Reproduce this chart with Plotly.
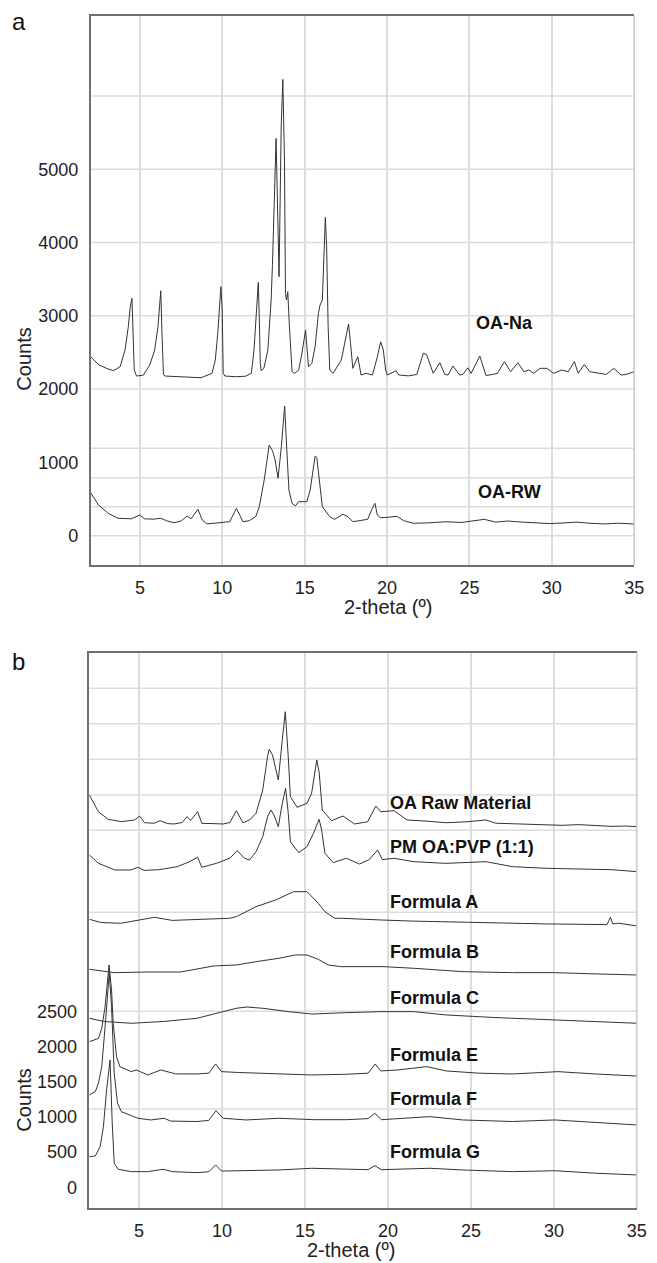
import plotly.graph_objects as go

# ---------------- data ----------------
# Panel a
oa_na_x = [2.0, 2.5, 3.0, 3.39, 3.79, 4.09, 4.29, 4.41, 4.51, 4.59, 4.65, 4.79, 5.2, 5.59, 5.89, 6.09,
           6.21, 6.26, 6.34, 6.42, 6.5, 7.2, 8.0, 8.7, 9.37, 9.57, 9.72, 9.82, 9.91, 9.99, 10.05, 10.15,
           10.8, 11.4, 11.76, 11.92, 12.06, 12.14, 12.18, 12.24, 12.3, 12.36, 12.52, 12.76, 12.96, 13.04,
           13.14, 13.26, 13.34, 13.44, 13.57, 13.67, 13.77, 13.83, 13.89, 13.97, 14.07, 14.23, 14.39,
           14.63, 14.83, 14.97, 15.05, 15.13, 15.23, 15.43, 15.63, 15.83, 15.93, 16.07, 16.17, 16.25,
           16.33, 16.42, 16.52, 16.72, 17.22, 17.48, 17.66, 17.78, 17.92, 18.22, 18.42, 18.71, 19.11,
           19.41, 19.61, 19.77, 19.91, 20.01, 20.55, 20.71, 21.3, 21.8, 22.2, 22.4, 22.8, 23.2, 23.5,
           23.7, 24.0, 24.4, 24.6, 24.9, 25.1, 25.63, 26.0, 26.4, 26.7, 27.12, 27.5, 27.94, 28.3, 28.6,
           28.9, 29.28, 29.7, 30.1, 30.6, 31.0, 31.37, 31.6, 31.97, 32.3, 32.8, 33.3, 33.76, 34.2, 34.5, 35.0]
oa_na_y = [2442, 2330, 2280, 2251, 2305, 2533, 2851, 3124, 3238, 2761, 2260, 2178, 2190, 2328, 2533, 2851,
           3215, 3342, 2715, 2206, 2178, 2169, 2160, 2155, 2215, 2397, 2761, 3170, 3396, 3079, 2215, 2178,
           2169, 2175, 2215, 2533, 2987, 3351, 3456, 2987, 2351, 2251, 2283, 2533, 3215, 3700,
           4600, 5420, 4579, 3533, 5579, 6225, 5125, 3306, 3215, 3328, 2851, 2237, 2215,
           2260, 2488, 2715, 2806, 2579, 2305, 2351, 2579, 3033, 3147, 3215, 3942, 4343,
           3942, 2851, 2260, 2215, 2397, 2670, 2888, 2624, 2283, 2442, 2192, 2215, 2192,
           2442, 2646, 2533, 2260, 2192, 2251, 2192, 2180, 2200, 2488, 2470, 2215, 2360, 2200,
           2192, 2315, 2192, 2200, 2290, 2215, 2451, 2185, 2200, 2215, 2374, 2237, 2360, 2237, 2260,
           2215, 2283, 2283, 2215, 2260, 2237, 2374, 2215, 2335, 2237, 2215, 2200, 2283, 2192, 2200, 2237]

oa_rw_x = [2.0, 2.48, 3.07, 3.67, 4.47, 4.99, 5.27, 5.8, 6.26, 6.6, 7.06, 7.5, 7.86, 8.1, 8.52, 8.76,
           9.05, 9.8, 10.45, 10.85, 11.25, 11.64, 12.04, 12.24, 12.54, 12.84, 13.04, 13.2, 13.38, 13.58,
           13.78, 13.88, 14.04, 14.23, 14.43, 14.63, 15.13, 15.33, 15.53, 15.63, 15.73, 15.87, 16.07,
           16.52, 16.82, 17.32, 17.62, 17.92, 18.82, 19.06, 19.26, 19.41, 19.6, 20.0, 20.6, 21.0, 21.6,
           22.5, 23.6, 24.5, 25.2, 25.9, 26.6, 27.3, 28.2, 29.0, 29.9, 30.8, 31.5, 32.3, 33.2, 34.0, 35.0]
oa_rw_y = [587, 419, 305, 237, 230, 282, 230, 225, 237, 205, 177, 200, 268, 230, 360, 220,
           160, 175, 191, 373, 191, 205, 264, 396, 760, 1237, 1160, 1033, 783, 1214,
           1769, 1305, 623, 442, 405, 464, 464, 623, 987, 1087, 1066, 805, 396,
           259, 223, 292, 259, 191, 223, 351, 442, 278, 246, 250, 264, 205, 169,
           175, 190, 180, 200, 223, 185, 200, 185, 175, 165, 175, 185, 170, 160, 170, 160]

# Panel b
raw_x = [2.0, 2.55, 3.14, 3.94, 4.73, 5.03, 5.33, 5.9, 6.27, 6.7, 7.1, 7.6, 7.89, 8.1, 8.53, 8.78, 9.4,
         10.07, 10.47, 10.86, 11.26, 11.66, 12.05, 12.45, 12.74, 12.84, 13.04, 13.39, 13.63, 13.81,
         13.99, 14.12, 14.52, 15.12, 15.4, 15.71, 15.85, 16.04, 16.6, 17.29, 17.98, 18.77, 19.27, 19.57,
         20.36, 21.15, 22.3, 23.52, 24.7, 25.9, 26.5, 27.5, 28.5, 29.5, 30.5, 31.5, 32.5, 33.5, 34.3, 35.0]
raw_y = [5571, 5333, 5225, 5192, 5216, 5272, 5177, 5170, 5206, 5165, 5159, 5180, 5263, 5210, 5333, 5168, 5165,
         5159, 5180, 5348, 5177, 5216, 5311, 5642, 6114, 6220, 6140, 5784, 6352, 6754,
         6114, 5547, 5396, 5453, 5600, 6068, 5900, 5358, 5206, 5272, 5159, 5190, 5414, 5333,
         5348, 5216, 5200, 5177, 5190, 5216, 5170, 5160, 5150, 5145, 5140, 5150, 5135, 5125, 5130, 5121]

pm_x = [2.0, 2.55, 3.54, 4.5, 4.93, 5.3, 6.2, 7.3, 8.0, 8.53, 8.78, 9.67, 10.46, 10.92, 11.35, 11.65,
        12.05, 12.45, 12.74, 12.94, 13.13, 13.39, 13.63, 13.83, 13.99, 14.12, 14.62, 15.12, 15.51, 15.85,
        16.0, 16.2, 16.7, 17.49, 18.28, 18.87, 19.37, 19.66, 20.36, 21.54, 23.5, 25.9, 27.5, 29.5, 31.5,
        33.5, 35.0]
pm_y = [4719, 4601, 4506, 4506, 4544, 4500, 4510, 4553, 4620, 4686, 4544, 4601, 4672, 4780, 4672, 4648,
        4766, 4979, 5263, 5358, 5287, 5121, 5453, 5666, 5311, 4908, 4752, 4837, 5027, 5226,
        5074, 4743, 4610, 4672, 4591, 4653, 4790, 4653, 4672, 4624, 4600, 4624, 4553, 4530, 4520,
        4510, 4482]

fa_x = [2.0, 2.7, 3.9, 4.9, 5.92, 7.0, 8.49, 10.46, 10.86, 12.05, 13.23, 14.32, 15.12, 15.8, 16.2, 16.8,
        17.19, 18.0, 19.57, 21.5, 23.5, 25.5, 27.5, 29.5, 31.5, 33.2, 33.41, 33.55, 33.9, 35.0]
fa_y = [3806, 3760, 3749, 3790, 3834, 3790, 3800, 3820, 3843, 3985, 4080, 4198, 4198, 4033, 3914, 3820,
        3820, 3810, 3796, 3780, 3768, 3760, 3752, 3740, 3735, 3730, 3834, 3740, 3750, 3711]

fb_x = [2.0, 3.5, 5.52, 7.5, 9.48, 10.86, 12.05, 13.43, 14.42, 15.12, 15.8, 16.4, 17.19, 19.76, 21.54,
        24.51, 27.5, 30.05, 32.5, 35.0]
fb_y = [3096, 3048, 3057, 3057, 3143, 3157, 3204, 3252, 3299, 3299, 3237, 3157, 3133, 3133, 3110,
        3062, 3048, 3048, 3030, 3015]

fc_x = [2.0, 2.87, 4.53, 6.51, 8.49, 10.07, 10.86, 11.5, 12.45, 14.02, 15.41, 17.5, 19.57, 21.54, 23.52,
        26.5, 29.45, 32.0, 35.0]
fc_y = [2400, 2355, 2329, 2355, 2400, 2494, 2542, 2560, 2542, 2494, 2460, 2480, 2494, 2494, 2447,
        2410, 2385, 2360, 2329]

fe_x = [2.0, 2.36, 2.55, 2.75, 2.95, 3.19, 3.34, 3.44, 3.64, 3.84, 4.53, 4.83, 5.52, 6.31, 7.2, 8.49,
        9.2, 9.61, 9.97, 11.0, 13.43, 15.41, 17.5, 18.8, 19.23, 19.57, 20.6, 22.33, 23.52, 25.5, 27.5,
        30.25, 32.5, 35.0]
fe_y = [2068, 2092, 2114, 2258, 2565, 3157, 2802, 2329, 1855, 1713, 1642, 1666, 1595, 1666, 1610, 1609,
        1620, 1751, 1642, 1630, 1609, 1595, 1605, 1620, 1751, 1652, 1666, 1713, 1652, 1620, 1609,
        1642, 1609, 1580]

ff_x = [2.0, 2.36, 2.55, 2.75, 2.95, 3.1, 3.2, 3.34, 3.5, 3.7, 3.93, 4.93, 5.7, 6.51, 6.9, 8.49, 9.2,
        9.63, 10.07, 11.45, 13.43, 15.5, 17.5, 18.8, 19.21, 19.6, 22.53, 24.51, 27.5, 30.05, 32.5, 35.0]
ff_y = [1311, 1358, 1477, 1713, 2281, 2802, 3039, 2565, 1619, 1193, 1074, 980, 956, 980, 940, 934, 950,
        1088, 980, 956, 980, 960, 960, 975, 1051, 960, 1003, 956, 934, 956, 925, 885]

fg_x = [2.0, 2.36, 2.65, 2.85, 3.04, 3.25, 3.38, 3.5, 3.74, 4.53, 5.5, 6.45, 7.0, 8.49, 9.2, 9.61, 9.97,
        11.45, 13.43, 15.41, 17.5, 18.8, 19.21, 19.6, 22.53, 24.51, 27.5, 30.05, 32.5, 35.0]
fg_y = [435, 444, 577, 861, 1382, 1808, 909, 341, 256, 222, 222, 256, 222, 208, 220, 317, 230,
        235, 246, 270, 256, 250, 307, 250, 270, 246, 222, 235, 200, 175]

top_labels = ["OA-Na", "OA-RW"]
top_label_x = [25.25, 25.37]
top_label_y = [2895, 596]
bot_labels = ["OA Raw Material", "PM OA:PVP (1:1)", "Formula A", "Formula B", "Formula C",
              "Formula E", "Formula F", "Formula G"]
bot_label_y = [5459, 4834, 4053, 3342, 2689, 1879, 1254, 501]

x_ticks = [5, 10, 15, 20, 25, 30, 35]
top_yticks = [0, 1000, 2000, 3000, 4000, 5000]
bot_yticks = [0, 500, 1000, 1500, 2000, 2500]
top_grid_y = [0, 396, 791, 1192, 2000, 3000, 4000, 5000, 6000]
bot_grid_y = [1110, 2500, 3906, 5071, 5572, 6080, 6584, 7088]

# ---------------- figure ----------------
W, H = 657, 1263
FONT = "Liberation Sans, Arial, sans-serif"
LINE = dict(color="#333333", width=1)

fig = go.Figure()
for xs, ys in [(oa_na_x, oa_na_y), (oa_rw_x, oa_rw_y)]:
    fig.add_trace(go.Scatter(x=xs, y=ys, mode="lines", line=LINE, xaxis="x", yaxis="y",
                             showlegend=False, hoverinfo="skip"))
for xs, ys in [(raw_x, raw_y), (pm_x, pm_y), (fa_x, fa_y), (fb_x, fb_y), (fc_x, fc_y),
               (fe_x, fe_y), (ff_x, ff_y), (fg_x, fg_y)]:
    fig.add_trace(go.Scatter(x=xs, y=ys, mode="lines", line=LINE, xaxis="x2", yaxis="y2",
                             showlegend=False, hoverinfo="skip"))

GRID = "#dcdcdc"
AXL = "#707070"
tickfont = dict(family=FONT, size=18, color="#222")

common_x = dict(range=[2, 35], tickvals=x_ticks, showgrid=True, gridcolor=GRID, gridwidth=1.5,
                zeroline=False, showline=True, mirror=True, linecolor=AXL, linewidth=1.5,
                ticks="outside", ticklen=6, tickcolor="rgba(0,0,0,0)", tickfont=tickfont)
common_y = dict(showgrid=False, zeroline=False, showline=True, linecolor=AXL, linewidth=1.5,
                ticks="outside", ticklen=7, tickcolor="rgba(0,0,0,0)", tickfont=tickfont)

fig.update_layout(
    width=W, height=H, margin=dict(l=0, r=0, t=0, b=0),
    paper_bgcolor="white", plot_bgcolor="white",
    xaxis=dict(domain=[92 / W, 644 / W], anchor="y", **common_x),
    yaxis=dict(domain=[1 - 565 / H, 1 - 16 / H], anchor="x", range=[-400, 7090],
               tickvals=top_yticks, **common_y),
    xaxis2=dict(domain=[90.7 / W, 646.7 / W], anchor="y2", **common_x),
    yaxis2=dict(domain=[1 - 1207.7 / H, 1 - 653.3 / H], anchor="x2", range=[-290, 7583],
                tickvals=bot_yticks, **common_y),
)

shapes = []
for g in top_grid_y:
    shapes.append(dict(type="line", xref="x domain", yref="y", x0=0, x1=1, y0=g, y1=g,
                       line=dict(color=GRID, width=1.5), layer="below"))
for g in bot_grid_y:
    shapes.append(dict(type="line", xref="x2 domain", yref="y2", x0=0, x1=1, y0=g, y1=g,
                       line=dict(color=GRID, width=1.5), layer="below"))
# light right-hand borders
shapes.append(dict(type="line", xref="x domain", yref="y domain", x0=1, x1=1, y0=0, y1=1,
                   line=dict(color="#c8c8c8", width=1.5)))
shapes.append(dict(type="line", xref="x2 domain", yref="y2 domain", x0=1, x1=1, y0=0, y1=1,
                   line=dict(color="#c8c8c8", width=1.5)))
fig.update_layout(shapes=shapes)

ann = []
bold = dict(family=FONT, size=18, color="#111")
for t, xx, yy in zip(top_labels, top_label_x, top_label_y):
    ann.append(dict(text="<b>%s</b>" % t, x=xx, y=yy, xref="x", yref="y", xanchor="left",
                    yanchor="middle", showarrow=False, font=bold))
for t, yy in zip(bot_labels, bot_label_y):
    ann.append(dict(text="<b>%s</b>" % t, x=20.0, y=yy, xref="x2", yref="y2", xanchor="left",
                    yanchor="middle", showarrow=False, font=bold))
title_font = dict(family=FONT, size=20, color="#222")
ann += [
    dict(text="2-theta (º)", x=394 / W, y=1 - 607 / H, xref="paper", yref="paper",
         xanchor="center", yanchor="middle", showarrow=False, font=title_font),
    dict(text="2-theta (º)", x=356 / W, y=1 - 1250 / H, xref="paper", yref="paper",
         xanchor="center", yanchor="middle", showarrow=False, font=title_font),
    dict(text="Counts", x=24 / W, y=1 - 359 / H, xref="paper", yref="paper", textangle=-90,
         xanchor="center", yanchor="middle", showarrow=False, font=title_font),
    dict(text="Counts", x=24 / W, y=1 - 1100 / H, xref="paper", yref="paper", textangle=-90,
         xanchor="center", yanchor="middle", showarrow=False, font=title_font),
    dict(text="a", x=19 / W, y=1 - 21 / H, xref="paper", yref="paper", xanchor="center",
         yanchor="middle", showarrow=False, font=dict(family=FONT, size=24, color="#111")),
    dict(text="b", x=19 / W, y=1 - 661 / H, xref="paper", yref="paper", xanchor="center",
         yanchor="middle", showarrow=False, font=dict(family=FONT, size=24, color="#111")),
]
fig.update_layout(annotations=ann)

fig.write_html("out.html")
